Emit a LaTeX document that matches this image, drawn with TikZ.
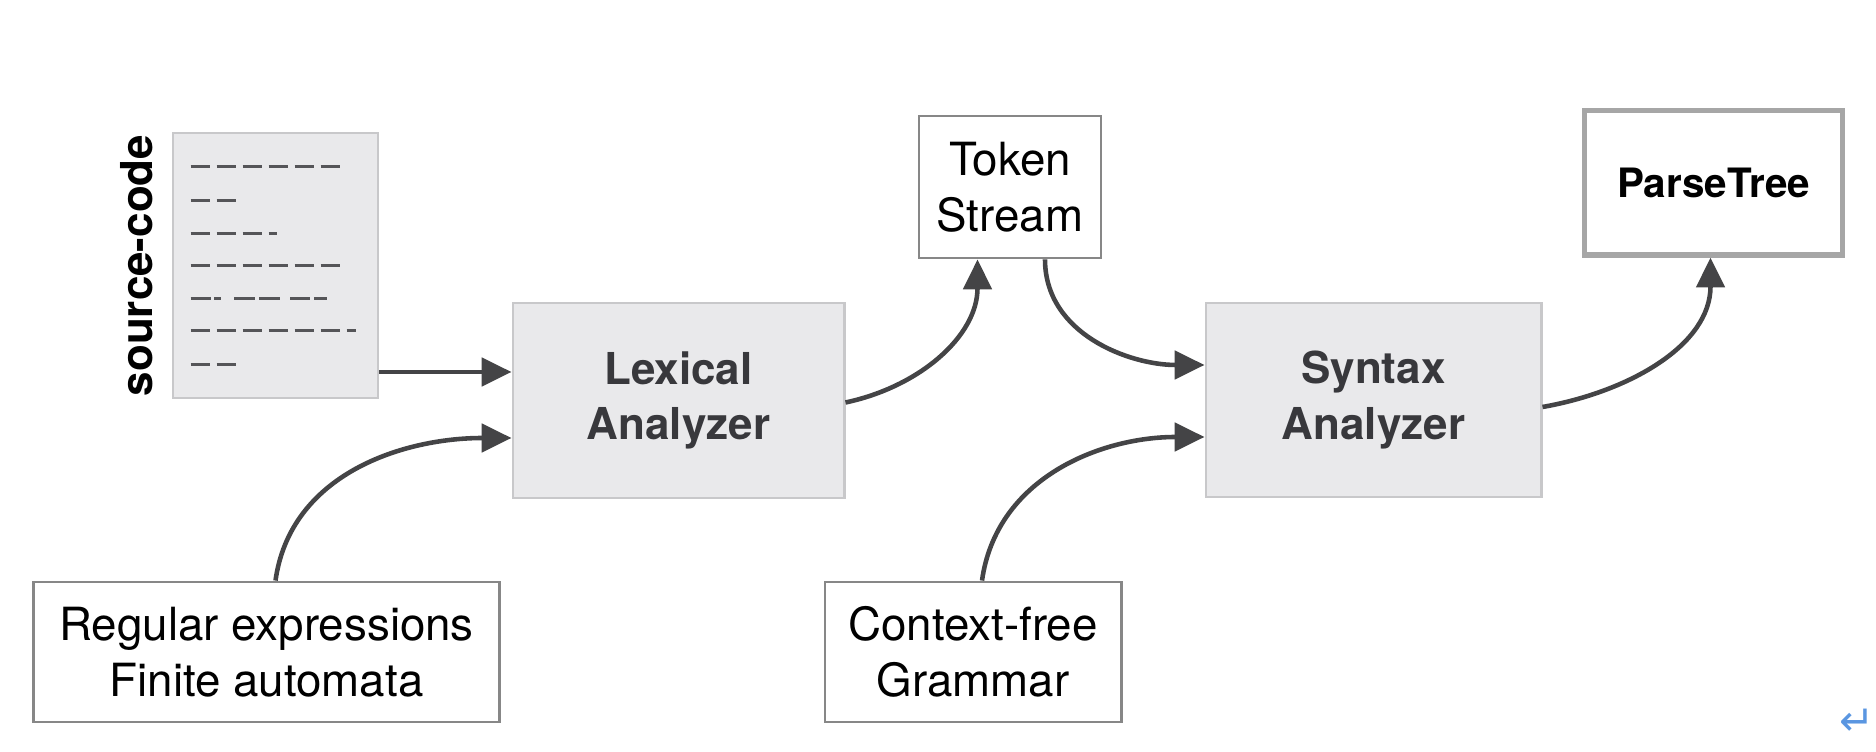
\documentclass[tikz,border=0pt]{standalone}
\usepackage{fontspec}
\setmainfont{TeX Gyre Heros}
\newfontfamily\symfont{DejaVu Sans}
\usetikzlibrary{arrows.meta,calc}

\definecolor{boxgray}{RGB}{233,233,235}
\definecolor{stageline}{RGB}{200,200,202}
\definecolor{stagetext}{RGB}{56,56,60}
\definecolor{infoline}{RGB}{135,135,135}
\definecolor{treeline}{RGB}{166,166,166}
\definecolor{arrowgray}{RGB}{68,68,70}
\definecolor{codegray}{RGB}{85,85,88}
\definecolor{markblue}{RGB}{90,150,225}

\begin{document}
\begin{tikzpicture}[x=0.01cm,y=0.01cm,
    >={Triangle[length=8.5pt,width=8pt]},
    flow/.style={->,line width=1.3pt,color=arrowgray},
    stage/.style={draw=stageline,fill=boxgray,line width=0.8pt,inner sep=0pt,align=center,
      text=stagetext,font=\bfseries\fontsize{12.5}{15.8}\selectfont},
    info/.style={draw=infoline,fill=white,line width=0.8pt,inner sep=0pt,align=center,
      text=black,font=\fontsize{13}{16}\selectfont},
    codeline/.style={line width=1pt,color=codegray,dash pattern=on 5.6pt off 1.8pt}]

    \useasboundingbox (0,0) rectangle (1876,752);

    % source code sheet
    \node (src) at (275.5,486.5)[stage,minimum width=2.05cm,minimum height=2.65cm]{};
    \node (srclabel) at (137,486.5)[rotate=90,font=\bfseries\fontsize{12.5}{15}\selectfont]{source-code};
    \foreach \dy/\len in {35/155,69/48,102/86,134/155,199/165,233/50}
        \draw[codeline] ($(src.north west)+(19,-\dy)$) -- ++(\len,0);
    \draw[codeline,dash pattern=on 5.7pt off 1.1pt on 2pt off 3.7pt on 5.7pt off 1.4pt on 5.7pt off 3.1pt on 5.7pt off 1.1pt on 3.7pt]
        ($(src.north west)+(19,-167)$) -- ++(138,0);

    % stages
    \node (lex) at (678.5,351.5)[stage,minimum width=3.31cm,minimum height=1.95cm]{Lexical\\Analyzer};
    \node (syn) at (1373.5,352)[stage,minimum width=3.35cm,minimum height=1.94cm]{Syntax\\Analyzer};

    % inputs and outputs
    \node (tok) at (1010,565)[info,minimum width=1.82cm,minimum height=1.42cm]{Token\\Stream};
    \node (tree) at (1713.5,569)[info,draw=treeline,line width=1.45pt,minimum width=2.57cm,minimum height=1.44cm,
        font=\bfseries\fontsize{11.5}{14}\selectfont]{ParseTree};
    \node (regex) at (266.5,100)[info,minimum width=4.65cm,minimum height=1.4cm]{Regular expressions\\Finite automata};
    \node (cfg) at (973,100)[info,minimum width=2.96cm,minimum height=1.4cm]{Context-free\\Grammar};

    \coordinate (lexin) at ($(lex.west)+(0,28.5)$);

    \draw[flow] (src.east |- lexin) -- (lexin);
    \draw[flow] ($(regex.north)+(9,0)$) to[out=82,in=180] ($(lex.west)+(0,-37.5)$);
    \draw[flow] ($(lex.east)+(0,-2)$) to[out=12,in=-90] ($(tok.south)+(-32.5,0)$);
    \draw[flow] ($(tok.south)+(35,0)$) to[out=-90,in=180] ($(syn.west)+(0,35)$);
    \draw[flow] ($(cfg.north)+(9,0)$) to[out=82,in=180] ($(syn.west)+(0,-37)$);
    \draw[flow] ($(syn.east)+(0,-7)$) to[out=10,in=-90] ($(tree.south)+(-3,0)$);

    \node (mark) at (1857,30)[text=markblue,font=\symfont\fontsize{12}{13}\selectfont]{↵};
\end{tikzpicture}
\end{document}
